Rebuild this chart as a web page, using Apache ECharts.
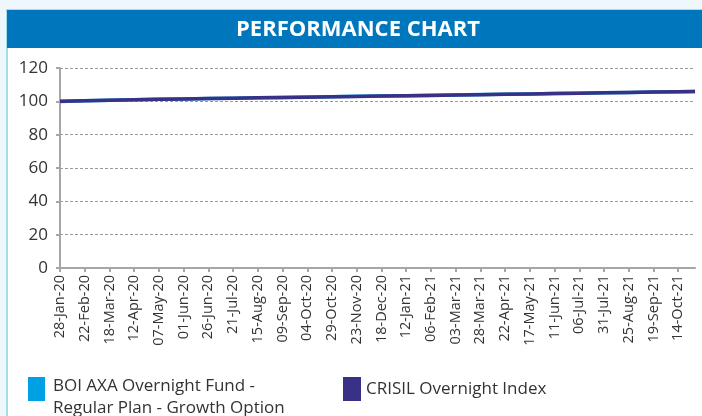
<!DOCTYPE html>
<html style="height: 100%">
<head>
    <meta charset="utf-8">
</head>
<body style="height: 100%; margin: 0; background: #eef8fc">
    <div id="container" style="width: 702px; height: 416px;"></div>
    <script type="text/javascript" src="https://cdn.jsdelivr.net/npm/echarts@6/dist/echarts.min.js"></script>
    <script type="text/javascript">
        // tick dates shown on the x axis (every 25 days)
        var tickLabels = ['28-Jan-20', '22-Feb-20', '18-Mar-20', '12-Apr-20', '07-May-20', '01-Jun-20',
            '26-Jun-20', '21-Jul-20', '15-Aug-20', '09-Sep-20', '04-Oct-20', '29-Oct-20', '23-Nov-20',
            '18-Dec-20', '12-Jan-21', '06-Feb-21', '03-Mar-21', '28-Mar-21', '22-Apr-21', '17-May-21',
            '11-Jun-21', '06-Jul-21', '31-Jul-21', '25-Aug-21', '19-Sep-21', '14-Oct-21'];
        var tickDays = [0, 25, 50, 75, 100, 125, 150, 175, 200, 225, 250, 275, 300, 325, 350, 375,
            400, 425, 450, 475, 500, 525, 550, 575, 600, 625];
        // days since 28-Jan-20 for the sampled points
        var dataDays = [0, 25, 50, 75, 100, 125, 150, 175, 200, 225, 250, 275, 300, 325, 350, 375,
            400, 425, 450, 475, 500, 525, 550, 575, 600, 625, 642];
        var fundValues = [99.9, 100.28, 100.6, 100.93, 101.22, 101.47, 101.7, 101.92, 102.13, 102.35,
            102.56, 102.77, 102.98, 103.19, 103.4, 103.61, 103.82, 104.03, 104.24, 104.45, 104.67,
            104.89, 105.11, 105.34, 105.57, 105.76, 105.88];
        var indexValues = [100, 100.33, 100.64, 100.95, 101.22, 101.46, 101.68, 101.89, 102.1, 102.31,
            102.52, 102.73, 102.94, 103.15, 103.36, 103.57, 103.78, 103.99, 104.2, 104.42, 104.64,
            104.86, 105.09, 105.32, 105.55, 105.74, 105.86];
        var seriesNames = ['BOI AXA Overnight Fund -\nRegular Plan - Growth Option', 'CRISIL Overnight Index'];

        function pairs(days, vals) {
            var out = [];
            for (var i = 0; i < days.length; i++) out.push([days[i], vals[i]]);
            return out;
        }

        var dom = document.getElementById("container");
        var myChart = echarts.init(dom);
        var font = '"Open Sans", sans-serif';

        var option = {
            animation: false,
            backgroundColor: '#eef8fc',
            textStyle: { fontFamily: font },
            graphic: [
                { type: 'rect', shape: { x: 7, y: 10, width: 700, height: 420 },
                  style: { fill: '#ffffff', stroke: '#a6dbe9', lineWidth: 2 }, z: -10 },
                { type: 'rect', shape: { x: 7, y: 10, width: 700, height: 38 },
                  style: { fill: '#0077bd' }, z: -9 }
            ],
            title: {
                text: 'PERFORMANCE CHART',
                left: 358,
                textAlign: 'center',
                top: 19,
                padding: 0,
                textStyle: { color: '#ffffff', fontSize: 22, fontWeight: 'bold', fontFamily: font }
            },
            legend: [
                {
                    data: [seriesNames[0]],
                    left: 28, top: 377, padding: 0,
                    icon: 'rect', itemWidth: 17, itemHeight: 24, itemGap: 8,
                    formatter: function (name) {
                        return name.split('\n').map(function (s) { return '{a|' + s + '}'; }).join('\n');
                    },
                    textStyle: {
                        color: '#333', padding: [16, 0, 0, 3],
                        rich: { a: { fontSize: 17, lineHeight: 22, color: '#333', fontFamily: font } }
                    }
                },
                {
                    data: [seriesNames[1]],
                    left: 343, top: 377, padding: 0,
                    icon: 'rect', itemWidth: 18, itemHeight: 24, itemGap: 8,
                    textStyle: { fontSize: 17, color: '#333' }
                }
            ],
            grid: { left: 60, right: 7, top: 68, bottom: 148 },
            xAxis: {
                type: 'value',
                min: 0,
                max: 642,
                axisLine: { lineStyle: { color: '#a6a6a6', width: 2 } },
                axisTick: { customValues: tickDays, length: 4, lineStyle: { color: '#a6a6a6', width: 2 } },
                splitLine: { show: false },
                axisLabel: {
                    customValues: tickDays,
                    rotate: 90,
                    fontSize: 14.5,
                    color: '#333',
                    margin: 7,
                    formatter: function (v) {
                        var i = tickDays.indexOf(v);
                        return i >= 0 ? tickLabels[i] : '';
                    }
                }
            },
            yAxis: {
                type: 'value',
                min: 0,
                max: 120,
                interval: 20,
                axisLine: { show: true, lineStyle: { color: '#a6a6a6', width: 2 } },
                axisTick: { show: true, length: 4, lineStyle: { color: '#a6a6a6', width: 2 } },
                axisLabel: { fontSize: 17, color: '#333', margin: 12 },
                splitLine: { lineStyle: { color: '#9a9a9a', type: [3, 2], width: 1 } }
            },
            series: [
                {
                    name: seriesNames[0],
                    type: 'line',
                    showSymbol: false,
                    data: pairs(dataDays, fundValues),
                    itemStyle: { color: '#00a1e4' },
                    lineStyle: { color: '#00a1e4', width: 3.5 }
                },
                {
                    name: seriesNames[1],
                    type: 'line',
                    showSymbol: false,
                    data: pairs(dataDays, indexValues),
                    itemStyle: { color: '#393185' },
                    lineStyle: { color: '#393185', width: 3.5 }
                }
            ]
        };
        myChart.setOption(option, true);
    </script>
</body>
</html>
